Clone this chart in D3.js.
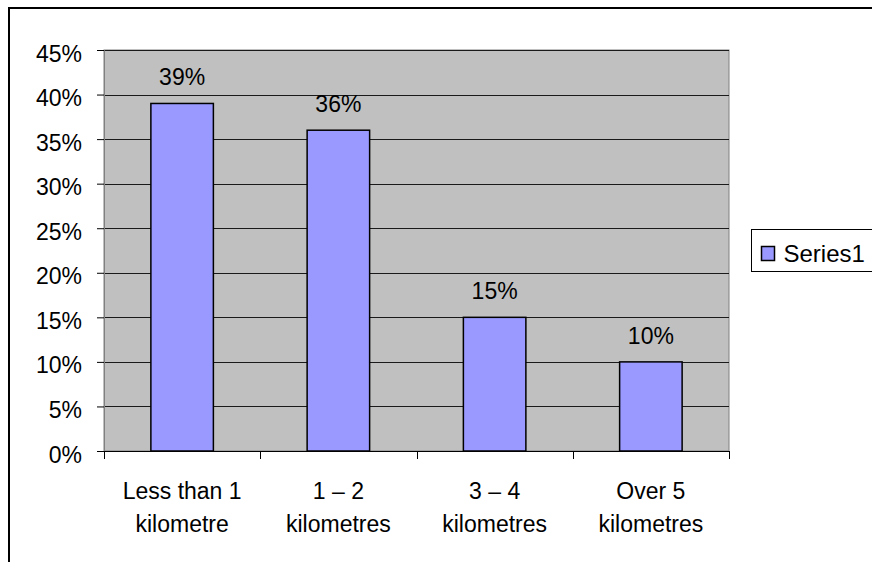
<!DOCTYPE html>
<html>
<head>
<meta charset="utf-8">
<script src="https://cdn.jsdelivr.net/npm/d3@7"></script>
<style>
  body { margin: 0; background: #fff; }
  text { font-family: "Liberation Sans", Arial, sans-serif; fill: #000; }
</style>
</head>
<body>
<div id="chart"></div>
<script>
// chart data
var categories = [['Less than 1', 'kilometre'], ['1 \u2013 2', 'kilometres'], ['3 \u2013 4', 'kilometres'], ['Over 5', 'kilometres']];
var values = [0.39, 0.36, 0.15, 0.10];
var yTicks = [0, 0.05, 0.10, 0.15, 0.20, 0.25, 0.30, 0.35, 0.40, 0.45];
var seriesName = 'Series1';

var W = 872, H = 562;
var FS = '23px';
var plot = { left: 104, top: 50, right: 729, bottom: 451 };

var svg = d3.select('#chart').append('svg')
  .attr('width', W)
  .attr('height', H);

// outer chart border (right and bottom run off the picture)
svg.append('path')
  .attr('d', 'M9,' + (H + 5) + 'V8H' + (W + 5))
  .attr('fill', 'none')
  .attr('stroke', '#000')
  .attr('stroke-width', 2);

var x = d3.scaleBand()
  .domain(d3.range(categories.length))
  .range([plot.left, plot.right])
  .paddingInner(0.6)
  .paddingOuter(0.3);

var y = d3.scaleLinear()
  .domain([0, 0.45])
  .range([plot.bottom, plot.top]);

// plot area
svg.append('rect')
  .attr('x', plot.left)
  .attr('y', plot.top)
  .attr('width', plot.right - plot.left)
  .attr('height', plot.bottom - plot.top)
  .attr('fill', '#c0c0c0')
  .attr('stroke', '#808080')
  .attr('stroke-width', 1);

// gridlines
svg.selectAll('.grid')
  .data(yTicks.slice(1))
  .enter().append('line')
    .attr('class', 'grid')
    .attr('x1', plot.left)
    .attr('x2', plot.right)
    .attr('y1', function(d){ return Math.round(y(d)) + 0.5; })
    .attr('y2', function(d){ return Math.round(y(d)) + 0.5; })
    .attr('stroke', '#1a1a1a')
    .attr('stroke-width', 1);

// y axis
var yAxis = d3.axisLeft(y)
  .tickValues(yTicks)
  .tickFormat(d3.format('.0%'))
  .tickSize(7)
  .tickPadding(15);

var gy = svg.append('g')
  .attr('transform', 'translate(' + plot.left + ',0)')
  .call(yAxis);
gy.select('.domain').attr('stroke', '#808080');
gy.selectAll('.tick line').attr('stroke', '#000');
gy.selectAll('.tick text')
  .style('font-size', FS)
  .attr('dy', '11px')
  .attr('fill', '#000');

// x axis: ticks at band boundaries
var xEdges = d3.range(categories.length + 1).map(function(i){
  return plot.left + i * x.step();
});
svg.append('line')
  .attr('x1', plot.left).attr('x2', plot.right)
  .attr('y1', plot.bottom + 0.5).attr('y2', plot.bottom + 0.5)
  .attr('stroke', '#000');
svg.selectAll('.xtick')
  .data(xEdges)
  .enter().append('line')
    .attr('class', 'xtick')
    .attr('x1', function(d){ return Math.round(d) + 0.5; })
    .attr('x2', function(d){ return Math.round(d) + 0.5; })
    .attr('y1', plot.bottom)
    .attr('y2', plot.bottom + 8)
    .attr('stroke', '#000');

var xLabels = svg.selectAll('.xlabel')
  .data(categories)
  .enter().append('text')
    .attr('class', 'xlabel')
    .attr('text-anchor', 'middle')
    .style('font-size', FS)
    .attr('transform', function(d, i){
      return 'translate(' + (x(i) + x.bandwidth() / 2) + ',' + (plot.bottom + 48) + ')';
    });
xLabels.selectAll('tspan')
  .data(function(d){ return d; })
  .enter().append('tspan')
    .attr('x', 0)
    .attr('y', function(d, j){ return j * 33; })
    .text(function(d){ return d; });

// bars
svg.selectAll('.bar')
  .data(values)
  .enter().append('rect')
    .attr('class', 'bar')
    .attr('x', function(d, i){ return x(i); })
    .attr('y', function(d){ return y(d); })
    .attr('width', x.bandwidth())
    .attr('height', function(d){ return plot.bottom - y(d); })
    .attr('fill', '#9999ff')
    .attr('stroke', '#000')
    .attr('stroke-width', 1.5);

// data labels
svg.selectAll('.label')
  .data(values)
  .enter().append('text')
    .attr('class', 'label')
    .attr('text-anchor', 'middle')
    .style('font-size', FS)
    .attr('x', function(d, i){ return x(i) + x.bandwidth() / 2; })
    .attr('y', function(d){ return y(d) - 18; })
    .text(function(d){ return d3.format('.0%')(d); });

// legend
var legend = svg.append('g').attr('transform', 'translate(751.5,229.5)');
legend.append('rect')
  .attr('x', 0).attr('y', 0)
  .attr('width', 130).attr('height', 42)
  .attr('fill', '#fff')
  .attr('stroke', '#000')
  .attr('stroke-width', 1);
legend.append('rect')
  .attr('x', 10).attr('y', 17)
  .attr('width', 13).attr('height', 14)
  .attr('fill', '#9999ff')
  .attr('stroke', '#000')
  .attr('stroke-width', 1.5);
legend.append('text')
  .attr('x', 32)
  .attr('y', 32)
  .style('font-size', '24px')
  .text(seriesName);
</script>
</body>
</html>
